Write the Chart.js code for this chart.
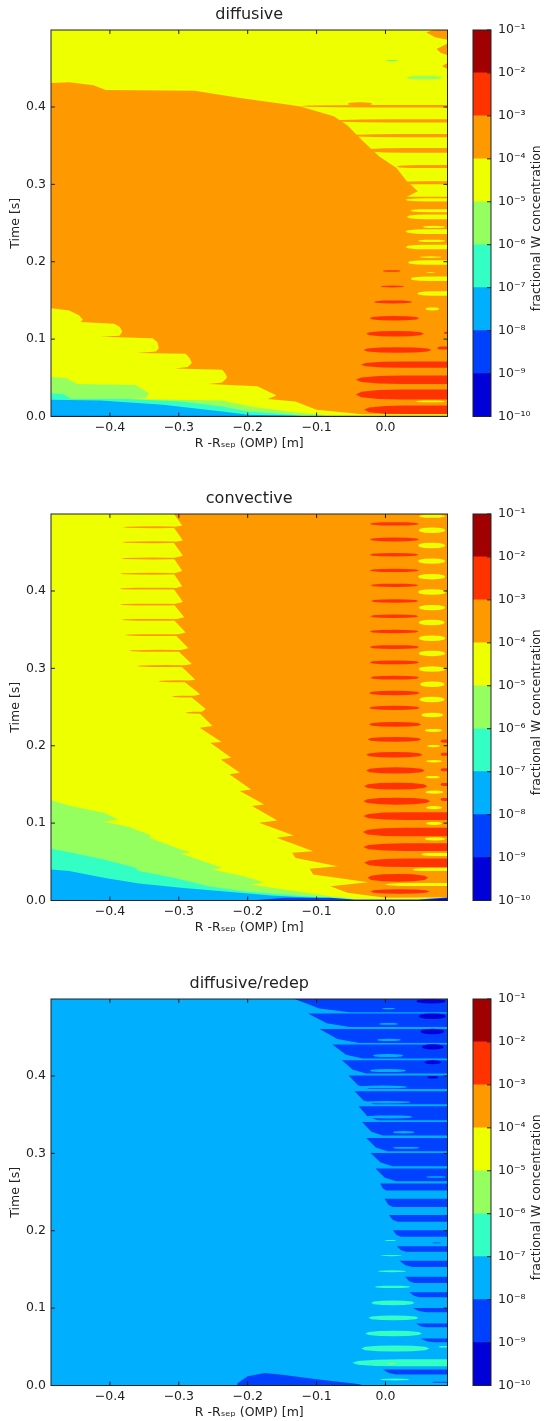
<!DOCTYPE html>
<html>
<head>
<meta charset="utf-8">
<title>fractional W concentration</title>
<script src="https://cdn.jsdelivr.net/npm/chart.js@4/dist/chart.umd.min.js"></script>
<style>
  html, body { margin: 0; padding: 0; background: #fff; }
  body { position: relative; width: 545px; height: 1421px; overflow: hidden; }
  canvas { position: absolute; filter: blur(0.35px); }
</style>
</head>
<body>
<script>
// axes
const xMin = -0.4855, xMax = 0.09, tMin = 0, tMax = 0.4995;
const xTicks = [-0.4, -0.3, -0.2, -0.1, 0.0];
const tTicks = [0.0, 0.1, 0.2, 0.3, 0.4];
const xLabel = 'R -Rₛₑₚ (OMP) [m]';
const tLabel = 'Time [s]';
const barLabel = 'fractional W concentration';

// colour levels, low to high
const levelEdges = [1e-10, 1e-9, 1e-8, 1e-7, 1e-6, 1e-5, 1e-4, 1e-3, 1e-2, 1e-1];
const levelColors = ['#0000d8', '#0040ff', '#00b0ff', '#33ffc4', '#96ff60', '#eeff00', '#ff9900', '#ff3300', '#a00000'];
const [DARK, BLUE, SKY, TEAL, GREEN, YELLOW, ORANGE, RED] = levelColors;

// whole plot
const fullPlot = [[xMin, tMin], [xMin, tMax], [xMax, tMax], [xMax, tMin]];

// ---- diffusive: outlines [x, t]
const difTopYellow = [[-.486, .5], [.09, .5], [.09, .284], [.031, .284], [.047, .291], [.031, .304], [.016, .321], [-.009, .336],
  [-.034, .357], [-.055, .376], [-.075, .388], [-.125, .401], [-.148, .404], [-.206, .411], [-.277, .421], [-.406, .422],
  [-.424, .428], [-.459, .432], [-.486, .431]];
const difTopOrange1 = [[.059, .4966], [.072, .5], [.09, .5], [.09, .487], [.072, .49]];
const difTopOrange2 = [[.074, .475], [.09, .482], [.09, .467], [.08, .47]];
const difTopOrange3 = [[.082, .453], [.09, .457], [.09, .449]];
const difLowYellow = [[-.486, .14], [-.459, .137], [-.445, .131], [-.439, .125], [-.443, .122], [-.394, .12], [-.386, .116], [-.382, .11],
  [-.386, .1045], [-.414, .103], [-.338, .101], [-.331, .096], [-.329, .0886], [-.333, .084], [-.361, .082], [-.29, .081], [-.284, .075],
  [-.281, .069], [-.287, .064], [-.306, .062], [-.237, .0605], [-.232, .055], [-.23, .05], [-.237, .044], [-.257, .042], [-.186, .039],
  [-.158, .027], [-.171, .0225], [-.131, .0194], [-.1, .0086], [-.055, .005], [-.034, .003], [.09, .003], [.09, 0], [-.486, 0]];
const difGreen = [[-.486, .051], [-.464, .0497], [-.447, .042], [-.363, .0406], [-.343, .03], [-.348, .024], [-.378, .0225],
  [-.237, .0207], [-.196, .013], [-.131, .0052], [-.09, .002], [-.09, 0], [-.486, 0]];
const difTeal = [[-.486, .03], [-.467, .0289], [-.457, .0225], [-.373, .0225], [-.297, .0194], [-.237, .013], [-.199, .0065],
  [-.125, .0017], [-.125, 0], [-.486, 0]];
const difSky = [[-.486, .0216], [-.414, .0207], [-.323, .0151], [-.237, .0065], [-.199, .0022], [-.131, .001], [-.131, 0], [-.486, 0]];
const bottomBlue = [[-.486, .001], [.09, .001], [.09, 0], [-.486, 0]];

// stripes: [xLeft, xRight, t, half thickness]
const difOrangeStripes = [[-.125, .09, .401, .0015], [-.055, -.019, .404, .002], [-.075, .09, .382, .002], [-.05, .09, .363, .002],
  [-.03, .09, .344, .003], [.016, .09, .323, .002], [.019, .09, .302, .002]];
const difYellowStripes = [[.029, .09, .28, .002], [.036, .09, .266, .002], [.031, .09, .258, .003], [.054, .087, .245, .0015],
  [.029, .09, .239, .003], [.047, .087, .227, .0015], [.029, .09, .219, .003], [.049, .082, .206, .001], [.032, .09, .199, .003],
  [.059, .072, .186, .0006], [.036, .09, .178, .003], [.046, .09, .159, .003], [.058, .078, .139, .002]];
const difRedStripes = [[-.004, .022, .188, .001], [-.007, .027, .168, .0012], [-.017, .039, .148, .002], [-.023, .049, .127, .003],
  [-.028, .056, .107, .0035], [-.032, .067, .086, .0035], [-.036, .09, .067, .004], [-.043, .09, .0475, .0055],
  [-.043, .09, .0285, .0065], [-.031, .09, .0086, .0055], [.085, .09, .108, .0015], [.075, .09, .0885, .002]];
const difLateYellow = [[.044, .087, .0195, .0012]];
const difGreenStripes = [[.031, .082, .438, .0025]];
const difTealStripes = [[0, .019, .46, .0006]];

// ---- convective
const conYellow = [[-.486, .5], [-.3075, .5], [-.295, .4845], [-.3075, .4824], [-.294, .4652], [-.3075, .4627], [-.294, .4455],
  [-.3075, .4425], [-.295, .4258], [-.3075, .4227], [-.295, .406], [-.3075, .403], [-.294, .3858], [-.3075, .3828], [-.292, .366],
  [-.3075, .3627], [-.29, .3464], [-.305, .343], [-.286, .326], [-.3015, .3227], [-.281, .3056], [-.297, .303], [-.276, .2854],
  [-.292, .2826], [-.269, .2665], [-.282, .263], [-.261, .2476], [-.2696, .2418], [-.251, .2254], [-.2696, .2233], [-.238, .205],
  [-.2544, .2039], [-.224, .1845], [-.239, .1823], [-.2114, .165], [-.2266, .163], [-.195, .1435], [-.2114, .1414], [-.176, .124],
  [-.1937, .122], [-.157, .1034], [-.1836, .1004], [-.133, .084], [-.158, .081], [-.105, .0638], [-.1356, .0616], [-.1305, .055],
  [-.069, .0444], [-.11, .041], [-.105, .0336], [-.025, .0237], [-.08, .0185], [-.055, .0099], [0, .0034], [.09, .0043], [.09, 0], [-.486, 0]];
const conGreen = [[-.486, .1297], [-.457, .122], [-.409, .1134], [-.388, .1047], [-.409, .1017], [-.373, .0953], [-.34, .084],
  [-.343, .081], [-.297, .066], [-.282, .0625], [-.297, .0608], [-.237, .0422], [-.252, .04], [-.206, .0315], [-.176, .0237],
  [-.196, .0207], [-.1305, .012], [-.08, .0056], [-.05, .003], [-.05, 0], [-.486, 0]];
const conTeal = [[-.486, .0668], [-.459, .0625], [-.409, .053], [-.363, .0422], [-.358, .038], [-.3075, .0293], [-.257, .0185],
  [-.206, .0121], [-.1305, .0065], [-.08, .0034], [-.08, 0], [-.486, 0]];
const conSky = [[-.486, .04], [-.459, .038], [-.409, .0293], [-.358, .022], [-.297, .0164], [-.237, .0121], [-.166, .0065],
  [-.08, .0022], [-.08, 0], [-.486, 0]];
const conBlue = [[-.196, 0], [-.146, .0034], [-.08, .0034], [-.045, .0013], [.047, .0013], [.09, .004], [.09, 0]];
const conDark = [[.047, 0], [.09, .003], [.09, 0]];
const conOrangeStripes = [[-.381, -.29, .4824, .0012], [-.383, -.29, .463, .0012], [-.384, -.29, .442, .0012], [-.386, -.29, .4223, .0012],
  [-.387, -.29, .403, .0012], [-.386, -.29, .3824, .0012], [-.384, -.29, .3627, .0012], [-.379, -.285, .343, .0012],
  [-.373, -.28, .3227, .0012], [-.361, -.275, .303, .0012], [-.33, -.27, .2833, .0012], [-.31, -.26, .2635, .0012], [-.29, -.25, .2427, .0012]];
const conRedStripes = [[-.023, .049, .4867, .0022], [-.023, .049, .4665, .0025], [-.023, .048, .4468, .0022], [-.023, .049, .4266, .0022],
  [-.022, .048, .4073, .0022], [-.021, .048, .3871, .0022], [-.022, .048, .3674, .0022], [-.023, .048, .3476, .0022],
  [-.023, .049, .3275, .0025], [-.023, .049, .3077, .0025], [-.022, .049, .288, .0025], [-.024, .05, .2682, .0028], [-.024, .05, .2489, .0028],
  [-.024, .052, .2276, .003], [-.026, .052, .2082, .003], [-.028, .054, .1884, .0035], [-.028, .057, .1681, .004], [-.031, .061, .1478, .0045],
  [-.032, .065, .1284, .0045], [-.032, .09, .1091, .005], [-.033, .09, .0884, .0055], [-.032, .09, .069, .005], [-.031, .09, .0487, .0055],
  [-.026, .062, .0293, .005], [-.022, .064, .0116, .003],
  [.08, .09, .206, .002], [.08, .09, .189, .002], [.08, .09, .169, .002], [.08, .09, .15, .002], [.08, .09, .1306, .002]];
const conYellowStripes = [[.048, .087, .4966, .002], [.048, .087, .4785, .0035], [.047, .087, .4588, .0035], [.047, .087, .4386, .0035],
  [.047, .087, .4185, .0035], [.047, .088, .3987, .0035], [.048, .087, .3785, .0035], [.048, .086, .3592, .0035], [.048, .087, .339, .0035],
  [.048, .087, .3193, .0035], [.048, .087, .2991, .0035], [.05, .086, .2794, .0035], [.049, .086, .2597, .0035], [.052, .084, .2397, .003],
  [.057, .082, .2198, .002], [.06, .079, .1996, .0015], [.059, .082, .18, .0015], [.058, .079, .1595, .0015], [.058, .084, .14, .002],
  [.059, .082, .12, .002], [.059, .082, .0996, .002], [.057, .087, .0797, .002], [.052, .09, .0595, .002], [.039, .09, .04, .002], [-.001, .09, .0207, .002]];

// ---- diffusive/redep: bands of the next level down, [xTip, tTop, xBelly, tBottom]
const redBands = [[-.132, .4995, -.052, .4823], [-.1126, .4806, -.052, .4634], [-.0957, .4608, -.038, .4427], [-.0773, .4406, -.033, .4225],
  [-.0633, .4203, -.028, .4031], [-.0536, .4005, -.023, .3833], [-.045, .3803, -.016, .3635], [-.039, .3609, -.011, .3428],
  [-.034, .3407, -.004, .323], [-.028, .32, .003, .3028], [-.0217, .3006, .0106, .2834], [-.0145, .2804, .0155, .264], [-.0077, .261, .001, .2519],
  [-.0014, .2412, .0106, .2308], [.0048, .2205, .0179, .2115], [.0106, .2007, .0227, .1921], [.0164, .18, .03, .1727], [.0203, .1611, .0396, .1533],
  [.0285, .1404, .042, .1326], [.0348, .1206, .0493, .1141], [.0396, .1003, .0589, .0947], [.0444, .0801, .0589, .0754], [.0507, .0607, .071, .056],
  [-.0039, .0207, .0155, .0142]];
const redBottomBlue = [[-.215, .003], [-.2, .012], [-.175, .016], [-.15, .014], [-.1, .008], [-.04, .002], [-.03, 0], [-.215, 0]];
const redDarkStripes = [[.0444, .088, .4966, .003], [.048, .088, .4772, .0035], [.0507, .0855, .4574, .0035], [.0527, .0845, .4376, .0033],
  [.0565, .0807, .4177, .0025], [.0604, .0768, .3984, .0017]];
const redSkyStripes = [[-.005, .014, .4871, .0008], [-.0097, .0188, .4673, .0012], [-.0126, .0227, .4466, .0015], [-.0184, .026, .4264, .002],
  [-.0232, .03, .407, .002], [-.04, .0324, .3859, .0018], [-.0353, .0372, .3661, .0015], [-.028, .0396, .3471, .002], [.0106, .042, .3273, .0015],
  [.0106, .0493, .3071, .0012], [.0589, .088, .2695, .001], [.054, .088, .2468, .001], [.0565, .083, .2252, .001], [.0565, .088, .205, .0008]];
const redBlueStripes = [[.0676, .0807, .1843, .0006], [.0676, .09, .0043, .0007]];
const redTealStripes = [[-.0014, .0155, .1873, .0007], [-.0072, .0242, .168, .0008], [-.0111, .03, .1477, .0012], [-.016, .0362, .1275, .0015],
  [-.0208, .042, .1068, .003], [-.0246, .0478, .0874, .003], [-.0295, .0531, .0672, .0035], [-.0353, .0638, .0478, .004], [-.0483, .09, .0293, .0045],
  [-.0077, .0348, .0078, .0012], [.0768, .09, .05, .001]];
const redYellowStripes = [[.0024, .0155, .028, .0004]];

// outline of one stripe, flat end if it runs to the right edge
const lensProfile = [[0, 0], [.06, .55], [.25, .9], [.5, 1], [.75, .9], [.94, .55], [1, 0]];
function lens([x0, x1, t, h]) {
  const open = x1 >= xMax;
  const pts = lensProfile.map(([f, k]) => [x0 + (x1 - x0) * f, t + h * ((open && f > .5) ? 1 : k)]);
  const low = lensProfile.map(([f, k]) => [x0 + (x1 - x0) * f, t - h * ((open && f > .5) ? 1 : k)]).reverse();
  return pts.concat(low);
}
function band([xTip, tTop, xBelly, tBot]) {
  // the lower edge drops quickly from the tip, then runs flat
  const knee = [xTip + (xBelly - xTip) * .45, tTop - (tTop - tBot) * .72];
  return [[xTip, tTop], [xMax, tTop], [xMax, tBot], [xBelly, tBot], knee];
}
function region(points, color) {
  return { data: points.map(p => ({ x: p[0], y: p[1] })), backgroundColor: color, showLine: false, pointRadius: 0 };
}
function stripes(list, color) {
  return list.map(s => region(lens(s), color));
}

const difLayers = [
  region(fullPlot, ORANGE), region(difTopYellow, YELLOW),
  ...stripes(difOrangeStripes, ORANGE),
  region(difTopOrange1, ORANGE), region(difTopOrange2, ORANGE), region(difTopOrange3, ORANGE),
  ...stripes(difGreenStripes, GREEN), ...stripes(difTealStripes, TEAL),
  ...stripes(difYellowStripes, YELLOW), ...stripes(difRedStripes, RED), ...stripes(difLateYellow, YELLOW),
  region(difLowYellow, YELLOW), region(difGreen, GREEN), region(difTeal, TEAL), region(difSky, SKY), region(bottomBlue, BLUE)
];
const conLayers = [
  region(fullPlot, ORANGE), region(conYellow, YELLOW),
  ...stripes(conOrangeStripes, ORANGE), ...stripes(conRedStripes, RED), ...stripes(conYellowStripes, YELLOW),
  region(conGreen, GREEN), region(conTeal, TEAL), region(conSky, SKY), region(conBlue, BLUE), region(conDark, DARK)
];
const redLayers = [
  region(fullPlot, SKY),
  ...redBands.map(b => region(band(b), BLUE)),
  region(redBottomBlue, BLUE),
  ...stripes(redSkyStripes, SKY), ...stripes(redDarkStripes, DARK), ...stripes(redBlueStripes, BLUE),
  ...stripes(redTealStripes, TEAL), ...stripes(redYellowStripes, YELLOW)
];

const font = 'DejaVu Sans';
const inkColor = '#222';

// fills each dataset's points (already placed by the scales) as a closed area
const contourFill = {
  id: 'contourFill',
  beforeDatasetDraw(chart, args) {
    const pts = chart.getDatasetMeta(args.index).data;
    const ds = chart.data.datasets[args.index];
    const a = chart.chartArea, ctx = chart.ctx;
    ctx.save();
    ctx.beginPath();
    ctx.rect(a.left, a.top, a.right - a.left, a.bottom - a.top);
    ctx.clip();
    ctx.beginPath();
    pts.forEach((p, i) => i ? ctx.lineTo(p.x, p.y) : ctx.moveTo(p.x, p.y));
    ctx.closePath();
    ctx.fillStyle = ds.backgroundColor;
    ctx.fill();
    ctx.restore();
  }
};

// matplotlib style frame with inward ticks
const frameTicks = {
  id: 'frameTicks',
  afterDatasetsDraw(chart) {
    const a = chart.chartArea, ctx = chart.ctx;
    ctx.save();
    ctx.strokeStyle = inkColor;
    ctx.lineWidth = 1;
    ctx.strokeRect(a.left, a.top, a.right - a.left, a.bottom - a.top);
    ctx.beginPath();
    if (chart.config.type === 'scatter') {
      chart.scales.x.ticks.forEach(t => {
        const px = chart.scales.x.getPixelForValue(t.value);
        ctx.moveTo(px, a.bottom); ctx.lineTo(px, a.bottom - 4);
        ctx.moveTo(px, a.top); ctx.lineTo(px, a.top + 4);
      });
      chart.scales.y.ticks.forEach(t => {
        const py = chart.scales.y.getPixelForValue(t.value);
        ctx.moveTo(a.left, py); ctx.lineTo(a.left + 4, py);
        ctx.moveTo(a.right, py); ctx.lineTo(a.right - 4, py);
      });
    } else {
      chart.scales.y.ticks.forEach(t => {
        const py = chart.scales.y.getPixelForValue(t.value);
        ctx.moveTo(a.right, py); ctx.lineTo(a.right - 4, py);
      });
    }
    ctx.stroke();
    ctx.restore();
  }
};

// the colour bar label reads upwards, which a right-hand axis title does not do
const barTitle = {
  id: 'barTitle',
  afterDraw(chart) {
    const a = chart.chartArea, ctx = chart.ctx;
    ctx.save();
    ctx.translate(a.right + 46, (a.top + a.bottom) / 2 + 5);
    ctx.rotate(-Math.PI / 2);
    ctx.font = '12.5px "' + font + '"';
    ctx.fillStyle = inkColor;
    ctx.textAlign = 'center';
    ctx.textBaseline = 'middle';
    ctx.fillText(barLabel, 0, 0);
    ctx.restore();
  }
};

function addCanvas(left, top, w, h) {
  const c = document.createElement('canvas');
  c.width = w; c.height = h;
  c.style.left = left + 'px'; c.style.top = top + 'px';
  c.style.width = w + 'px'; c.style.height = h + 'px';
  document.body.appendChild(c);
  return c;
}

function contourChart(top, title, layers) {
  new Chart(addCanvas(0, top, 455, 457), {
    type: 'scatter',
    // first dataset is drawn last, so flip the back-to-front list
    data: { datasets: layers.slice().reverse() },
    plugins: [contourFill, frameTicks],
    options: {
      responsive: false,
      animation: false,
      devicePixelRatio: 1,
      layout: { padding: { left: 0, right: 7.5, top: 0, bottom: 0 } },
      plugins: {
        legend: { display: false },
        tooltip: { enabled: false },
        title: { display: true, fullSize: false, text: title, color: inkColor, font: { family: font, size: 16, weight: 'normal' }, padding: { top: 5, bottom: 5.8 } }
      },
      scales: {
        x: {
          type: 'linear', min: xMin, max: xMax,
          afterBuildTicks: s => { s.ticks = xTicks.map(v => ({ value: v })); },
          afterFit: s => { s.height = 40.5; },
          grid: { display: false, drawTicks: false }, border: { display: false },
          ticks: { color: inkColor, font: { family: font, size: 12.5 }, padding: 4, maxRotation: 0, autoSkip: false,
            callback: v => v.toFixed(1).replace('-', '−') },
          title: { display: true, text: xLabel, color: inkColor, font: { family: font, size: 12.5 }, padding: { top: 0, bottom: 6 } }
        },
        y: {
          type: 'linear', min: tMin, max: tMax,
          afterBuildTicks: s => { s.ticks = tTicks.map(v => ({ value: v })); },
          afterFit: s => { s.width = 51; },
          grid: { display: false, drawTicks: false }, border: { display: false },
          ticks: { color: inkColor, font: { family: font, size: 12.5 }, padding: 5, autoSkip: false, callback: v => v.toFixed(1) },
          title: { display: true, text: tLabel, color: inkColor, font: { family: font, size: 12.5 }, padding: { top: 8, bottom: 0 } }
        }
      }
    }
  });
}

const superDigits = { '-': '⁻', '0': '⁰', '1': '¹', '2': '²', '3': '³', '4': '⁴', '5': '⁵', '6': '⁶', '7': '⁷', '8': '⁸', '9': '⁹' };
function decadeLabel(v) {
  const e = String(Math.round(Math.log10(v)));
  return '10' + e.split('').map(ch => superDigits[ch]).join('');
}

function colorBar(top) {
  new Chart(addCanvas(455, top, 90, 457), {
    type: 'bar',
    data: {
      labels: [''],
      datasets: levelColors.map((c, i) => ({ data: [[levelEdges[i], levelEdges[i + 1]]], backgroundColor: c, barPercentage: 1, categoryPercentage: 1 }))
    },
    plugins: [frameTicks, barTitle],
    options: {
      responsive: false,
      animation: false,
      devicePixelRatio: 1,
      layout: { padding: { left: 18, right: 0, top: 30, bottom: 40.5 } },
      plugins: { legend: { display: false }, tooltip: { enabled: false } },
      scales: {
        x: { display: false, stacked: true },
        y: {
          type: 'logarithmic', position: 'right', min: 1e-10, max: 1e-1,
          afterBuildTicks: s => { s.ticks = levelEdges.map(v => ({ value: v })); },
          afterFit: s => { s.width = 54; },
          grid: { display: false, drawTicks: false }, border: { display: false },
          ticks: { color: inkColor, font: { family: font, size: 12.5 }, padding: 7, autoSkip: false, callback: decadeLabel }
        }
      }
    }
  });
}

contourChart(0, 'diffusive', difLayers);
colorBar(0);
contourChart(484, 'convective', conLayers);
colorBar(484);
contourChart(969, 'diffusive/redep', redLayers);
colorBar(969);
</script>
</body>
</html>
